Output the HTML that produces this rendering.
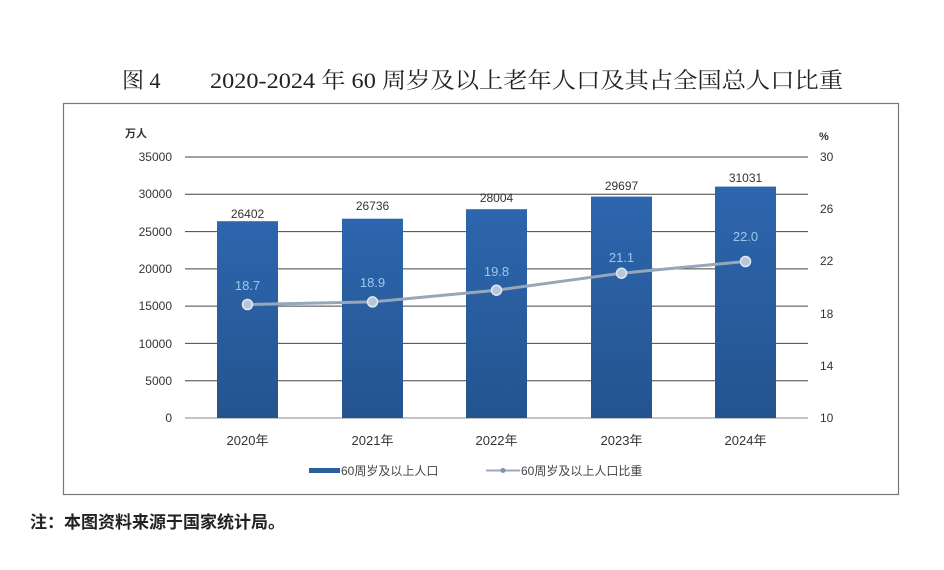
<!DOCTYPE html>
<html><head><meta charset="utf-8"><style>
body{margin:0;background:#fff;width:944px;height:565px;overflow:hidden}
</style></head><body>
<svg width="944" height="565" xmlns="http://www.w3.org/2000/svg">
<defs>
<linearGradient id="g" x1="0" y1="0" x2="0" y2="1"><stop offset="0" stop-color="#2d66ae"/><stop offset="1" stop-color="#24548f"/></linearGradient>
</defs>
<g font-family="'Liberation Serif','Noto Serif CJK SC',serif" font-size="22" fill="#222">
<text x="122" y="88">图 4</text>
<text x="210" y="88" textLength="633" lengthAdjust="spacingAndGlyphs">2020-2024 年 60 周岁及以上老年人口及其占全国总人口比重</text>
</g>
<rect x="63.5" y="103.5" width="835" height="391" fill="none" stroke="#777" stroke-width="1.2"/>
<g stroke="#444" stroke-width="1">
<line x1="185" x2="808" y1="157" y2="157"/><line x1="185" x2="808" y1="194.3" y2="194.3"/>
<line x1="185" x2="808" y1="231.6" y2="231.6"/><line x1="185" x2="808" y1="268.9" y2="268.9"/>
<line x1="185" x2="808" y1="306.1" y2="306.1"/><line x1="185" x2="808" y1="343.4" y2="343.4"/>
<line x1="185" x2="808" y1="380.7" y2="380.7"/><line x1="185" x2="808" y1="418" y2="418" stroke="#888"/>
</g>
<g font-family="'Liberation Sans','Noto Sans CJK SC',sans-serif" font-size="12" fill="#333" text-anchor="end">
<text x="172" y="161">35000</text><text x="172" y="198">30000</text><text x="172" y="236">25000</text>
<text x="172" y="273">20000</text><text x="172" y="310">15000</text><text x="172" y="348">10000</text>
<text x="172" y="385">5000</text><text x="172" y="422">0</text>
</g>
<g font-family="'Liberation Sans','Noto Sans CJK SC',sans-serif" font-size="12" fill="#333">
<text x="820" y="161">30</text><text x="820" y="213">26</text><text x="820" y="265">22</text>
<text x="820" y="318">18</text><text x="820" y="370">14</text><text x="820" y="422">10</text>
<text x="819" y="140" font-size="11" font-weight="bold">%</text>
<text x="125" y="137" font-size="11" font-weight="bold">万人</text>
</g>
<g fill="url(#g)">
<rect x="217" y="221.2" width="61" height="196.8"/>
<rect x="342" y="218.7" width="61" height="199.3"/>
<rect x="466" y="209.2" width="61" height="208.8"/>
<rect x="591" y="196.6" width="61" height="221.4"/>
<rect x="715" y="186.6" width="61" height="231.4"/>
</g>
<g font-family="'Liberation Sans',sans-serif" font-size="12" fill="#333" text-anchor="middle">
<text x="247.5" y="218">26402</text><text x="372.5" y="210">26736</text><text x="496.5" y="202">28004</text>
<text x="621.5" y="190">29697</text><text x="745.5" y="182">31031</text>
</g>
<polyline points="247.5,304.5 372.5,301.9 496.5,290.2 621.5,273.2 745.5,261.5" fill="none" stroke="#98a6ba" stroke-width="3"/>
<g fill="#b8c6da" stroke="#dfe8f4" stroke-width="1.5">
<circle cx="247.5" cy="304.5" r="5"/><circle cx="372.5" cy="301.9" r="5"/><circle cx="496.5" cy="290.2" r="5"/>
<circle cx="621.5" cy="273.2" r="5"/><circle cx="745.5" cy="261.5" r="5"/>
</g>
<g font-family="'Liberation Sans',sans-serif" font-size="13" fill="#9cc8f0" text-anchor="middle">
<text x="247.5" y="290">18.7</text><text x="372.5" y="287">18.9</text><text x="496.5" y="276">19.8</text>
<text x="621.5" y="262">21.1</text><text x="745.5" y="241">22.0</text>
</g>
<g font-family="'Liberation Sans','Noto Sans CJK SC',sans-serif" font-size="13" fill="#333" text-anchor="middle">
<text x="247.5" y="445">2020年</text><text x="372.5" y="445">2021年</text><text x="496.5" y="445">2022年</text>
<text x="621.5" y="445">2023年</text><text x="745.5" y="445">2024年</text>
</g>
<rect x="309" y="468" width="31" height="5" fill="#2b5e9e"/>
<line x1="486" x2="520" y1="470.5" y2="470.5" stroke="#9aaac0" stroke-width="2"/>
<circle cx="503" cy="470.5" r="2.5" fill="#7f93b0"/>
<g font-family="'Liberation Sans','Noto Sans CJK SC',sans-serif" font-size="12" fill="#444">
<text x="341" y="475">60周岁及以上人口</text>
<text x="521" y="475">60周岁及以上人口比重</text>
</g>
<text x="30" y="528" font-family="'Liberation Sans','Noto Sans CJK SC',sans-serif" font-size="17" font-weight="bold" fill="#222">注：本图资料来源于国家统计局。</text>
</svg>
</body></html>
